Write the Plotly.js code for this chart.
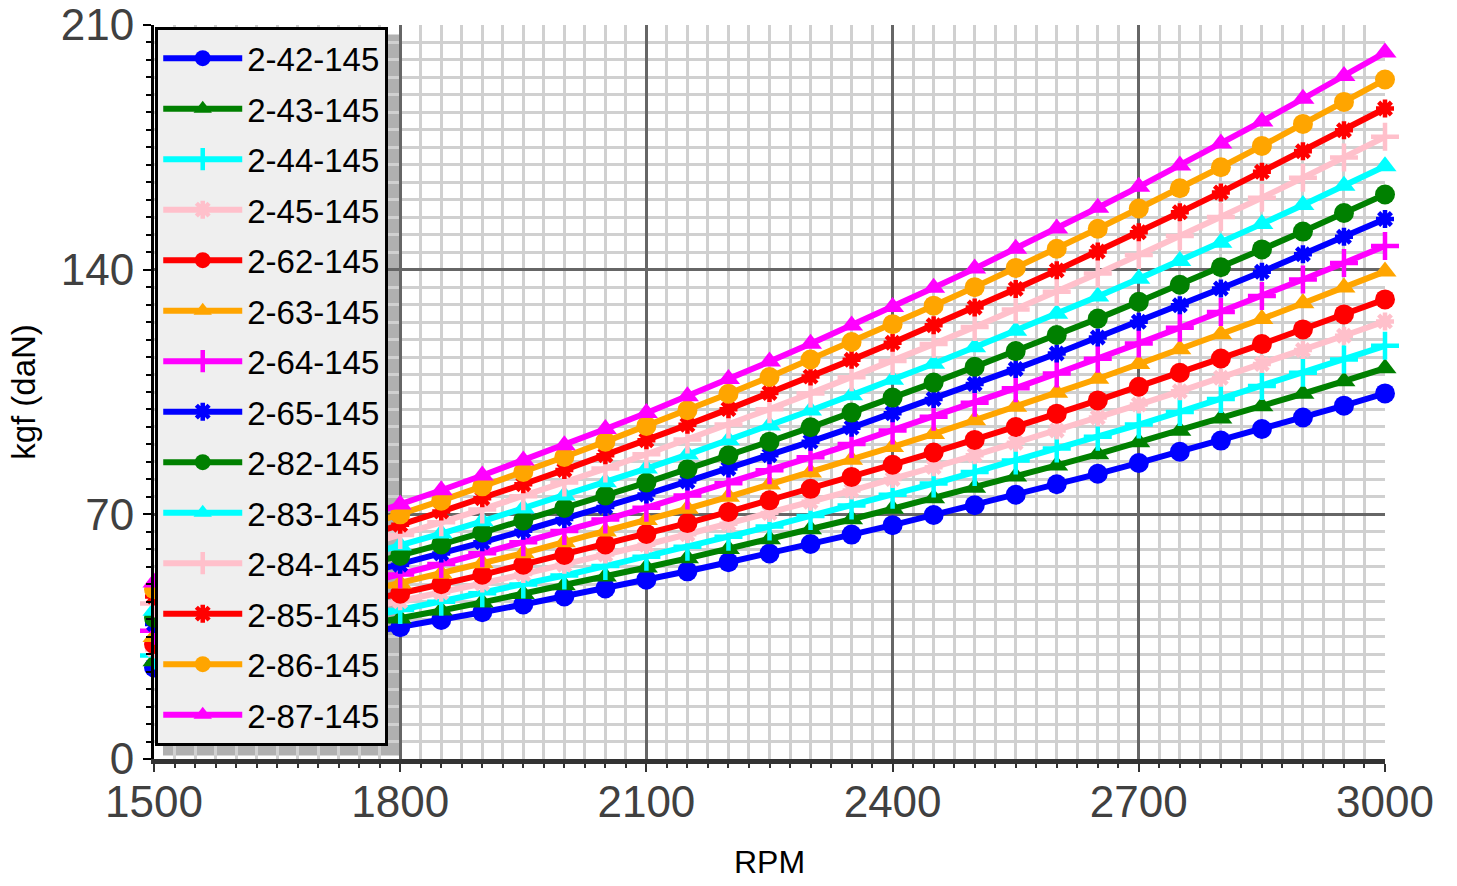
<!DOCTYPE html>
<html>
<head>
<meta charset="utf-8">
<script src="https://cdn.plot.ly/plotly-3.0.1.min.js"></script>
<style>html,body{margin:0;padding:0;background:#fff;}#chart{width:1457px;height:886px;}</style>
</head>
<body>
<div id="chart"></div>
<script>
const rpm = [1500,1550,1600,1650,1700,1750,1800,1850,1900,1950,2000,2050,2100,2150,2200,2250,2300,2350,2400,2450,2500,2550,2600,2650,2700,2750,2800,2850,2900,2950,3000];

const v2_42_145 = [26.2,27.9,29.8,31.6,33.6,35.6,37.7,39.8,42.0,44.2,46.5,48.8,51.3,53.7,56.3,58.8,61.5,64.2,66.9,69.8,72.6,75.6,78.6,81.6,84.7,87.9,91.1,94.4,97.7,101.1,104.6];
const v2_43_145 = [28.0,29.8,31.8,33.8,35.9,38.0,40.2,42.5,44.8,47.2,49.7,52.2,54.8,57.4,60.1,62.9,65.7,68.6,71.6,74.6,77.6,80.8,84.0,87.2,90.6,93.9,97.4,100.9,104.5,108.1,111.8];
const v2_44_145 = [29.6,31.6,33.6,35.8,38.0,40.2,42.6,45.0,47.4,49.9,52.5,55.2,57.9,60.7,63.6,66.5,69.5,72.5,75.6,78.8,82.1,85.4,88.8,92.2,95.7,99.3,103.0,106.7,110.5,114.3,118.2];
const v2_45_145 = [31.3,33.4,35.6,37.9,40.2,42.6,45.1,47.6,50.2,52.9,55.6,58.5,61.3,64.3,67.3,70.4,73.6,76.8,80.1,83.5,86.9,90.5,94.0,97.7,101.4,105.2,109.1,113.0,117.0,121.1,125.2];
const v2_62_145 = [32.9,35.1,37.4,39.8,42.2,44.7,47.3,50.0,52.7,55.6,58.4,61.4,64.4,67.5,70.7,74.0,77.3,80.7,84.2,87.7,91.3,95.0,98.8,102.6,106.5,110.5,114.6,118.7,122.9,127.2,131.5];
const v2_63_145 = [34.9,37.2,39.7,42.2,44.8,47.5,50.2,53.0,56.0,58.9,62.0,65.1,68.4,71.6,75.0,78.5,82.0,85.6,89.3,93.0,96.9,100.8,104.8,108.8,113.0,117.2,121.5,125.9,130.4,134.9,139.5];
const v2_64_145 = [36.7,39.2,41.8,44.4,47.1,50.0,52.8,55.8,58.9,62.0,65.2,68.5,71.9,75.4,78.9,82.6,86.3,90.1,94.0,97.9,101.9,106.1,110.3,114.5,118.9,123.4,127.9,132.5,137.2,141.9,146.8];
const v2_65_145 = [38.6,41.2,43.9,46.7,49.6,52.6,55.6,58.8,62.0,65.3,68.7,72.1,75.7,79.4,83.1,86.9,90.8,94.8,98.9,103.0,107.3,111.6,116.0,120.6,125.1,129.8,134.6,139.4,144.4,149.4,154.5];
const v2_82_145 = [40.4,43.1,45.9,48.9,51.9,55.0,58.1,61.4,64.8,68.2,71.8,75.4,79.1,82.9,86.9,90.8,94.9,99.1,103.4,107.7,112.2,116.7,121.3,126.0,130.8,135.7,140.7,145.8,150.9,156.2,161.5];
const v2_83_145 = [42.4,45.3,48.2,51.3,54.5,57.7,61.1,64.5,68.0,71.7,75.4,79.2,83.1,87.1,91.2,95.4,99.7,104.1,108.5,113.1,117.8,122.5,127.4,132.3,137.4,142.5,147.7,153.1,158.5,164.0,169.6];
const v2_84_145 = [44.5,47.5,50.6,53.8,57.2,60.6,64.1,67.7,71.4,75.2,79.1,83.1,87.2,91.4,95.7,100.1,104.6,109.2,113.9,118.7,123.6,128.6,133.7,138.9,144.2,149.6,155.1,160.6,166.3,172.1,178.0];
const v2_85_145 = [46.5,49.7,52.9,56.3,59.8,63.3,67.0,70.8,74.6,78.6,82.7,86.9,91.2,95.6,100.1,104.7,109.4,114.2,119.1,124.1,129.2,134.5,139.8,145.2,150.7,156.4,162.1,168.0,173.9,179.9,186.1];
const v2_86_145 = [48.6,51.9,55.3,58.8,62.4,66.1,70.0,73.9,78.0,82.1,86.4,90.8,95.3,99.8,104.5,109.3,114.3,119.3,124.4,129.7,135.0,140.5,146.0,151.7,157.5,163.3,169.3,175.4,181.7,188.0,194.4];
const v2_87_145 = [50.5,53.9,57.5,61.1,64.9,68.8,72.8,76.9,81.1,85.4,89.8,94.4,99.0,103.8,108.7,113.7,118.8,124.0,129.3,134.8,140.3,146.0,151.8,157.7,163.7,169.8,176.1,182.4,188.9,195.4,202.1];

const seriesNames = ['2-42-145','2-43-145','2-44-145','2-45-145','2-62-145','2-63-145','2-64-145','2-65-145','2-82-145','2-83-145','2-84-145','2-85-145','2-86-145','2-87-145'];
const seriesValues = [v2_42_145,v2_43_145,v2_44_145,v2_45_145,v2_62_145,v2_63_145,v2_64_145,v2_65_145,v2_82_145,v2_83_145,v2_84_145,v2_85_145,v2_86_145,v2_87_145];
const seriesColors = ['#0000ff','#008000','#00ffff','#ffc0cb','#ff0000','#ffa500','#ff00ff','#0000ff','#008000','#00ffff','#ffc0cb','#ff0000','#ffa500','#ff00ff'];
const seriesSymbols = ['circle','triangle-up','cross-thin-open','asterisk-open','circle','triangle-up','cross-thin-open','asterisk-open','circle','triangle-up','cross-thin-open','asterisk-open','circle','triangle-up'];

const FONT = 'Liberation Sans, Arial, sans-serif';

const traces = seriesNames.map((name, i) => {
  const sym = seriesSymbols[i];
  const open = sym.endsWith('-open');
  let size = 20;
  if (sym === 'asterisk-open') size = 15;
  return {
    type: 'scatter',
    mode: 'lines+markers',
    name: name,
    legendgroup: name,
    x: rpm,
    y: seriesValues[i],
    cliponaxis: false,
    line: {color: seriesColors[i], width: 6},
    marker: {
      symbol: sym,
      size: size,
      color: seriesColors[i],
      line: {color: seriesColors[i], width: open ? 4.5 : 0}
    }
  };
});

const layout = {
  width: 1457,
  height: 886,
  paper_bgcolor: '#ffffff',
  plot_bgcolor: '#ffffff',
  margin: {l: 154, r: 72, t: 25, b: 127, pad: 0},
  font: {family: FONT, color: '#000'},
  showlegend: true,
  legend: {
    x: 0.001, xanchor: 'left',
    y: 0.997, yanchor: 'top',
    bgcolor: '#efefef',
    bordercolor: '#000000',
    borderwidth: 3,
    font: {family: FONT, size: 33, color: '#000'},
    traceorder: 'grouped',
    tracegroupgap: 4.6,
    itemwidth: 79
  },
  shapes: [{
    type: 'rect', xref: 'paper', yref: 'paper', layer: 'below',
    x0: 0.0073, x1: 0.2006, y0: 0.0048, y1: 0.987,
    fillcolor: '#b0b0b0', line: {width: 0}
  }],
  xaxis: {
    range: [1500, 3000],
    tickmode: 'linear', tick0: 1500, dtick: 300,
    showgrid: true, gridcolor: '#666666', gridwidth: 3,
    zeroline: false,
    showline: true, linecolor: '#333333', linewidth: 5,
    ticks: 'outside', ticklen: 8, tickwidth: 2, tickcolor: '#333333',
    ticklabelstandoff: -8,
    tickfont: {family: FONT, size: 44, color: '#404040'},
    minor: {dtick: 25, showgrid: true, gridcolor: '#d0d0d0', gridwidth: 3, ticks: 'outside', ticklen: 4, tickwidth: 2, tickcolor: '#333333'},
    title: {text: 'RPM', font: {family: FONT, size: 32, color: '#000'}, standoff: 27},
    automargin: false
  },
  yaxis: {
    range: [0, 210],
    tickmode: 'linear', tick0: 0, dtick: 70,
    showgrid: true, gridcolor: '#666666', gridwidth: 3,
    zeroline: false,
    showline: true, linecolor: '#000000', linewidth: 3,
    ticks: 'outside', ticklen: 8, tickwidth: 2, tickcolor: '#000000',
    tickfont: {family: FONT, size: 44, color: '#404040'},
    minor: {dtick: 5, showgrid: true, gridcolor: '#d0d0d0', gridwidth: 3, ticks: 'outside', ticklen: 5, tickwidth: 2, tickcolor: '#000000'},
    title: {text: 'kgf (daN)', font: {family: FONT, size: 33, color: '#000'}, standoff: 16},
    automargin: false
  }
};

Plotly.newPlot('chart', traces, layout, {displayModeBar: false, staticPlot: true});
</script>
</body>
</html>
